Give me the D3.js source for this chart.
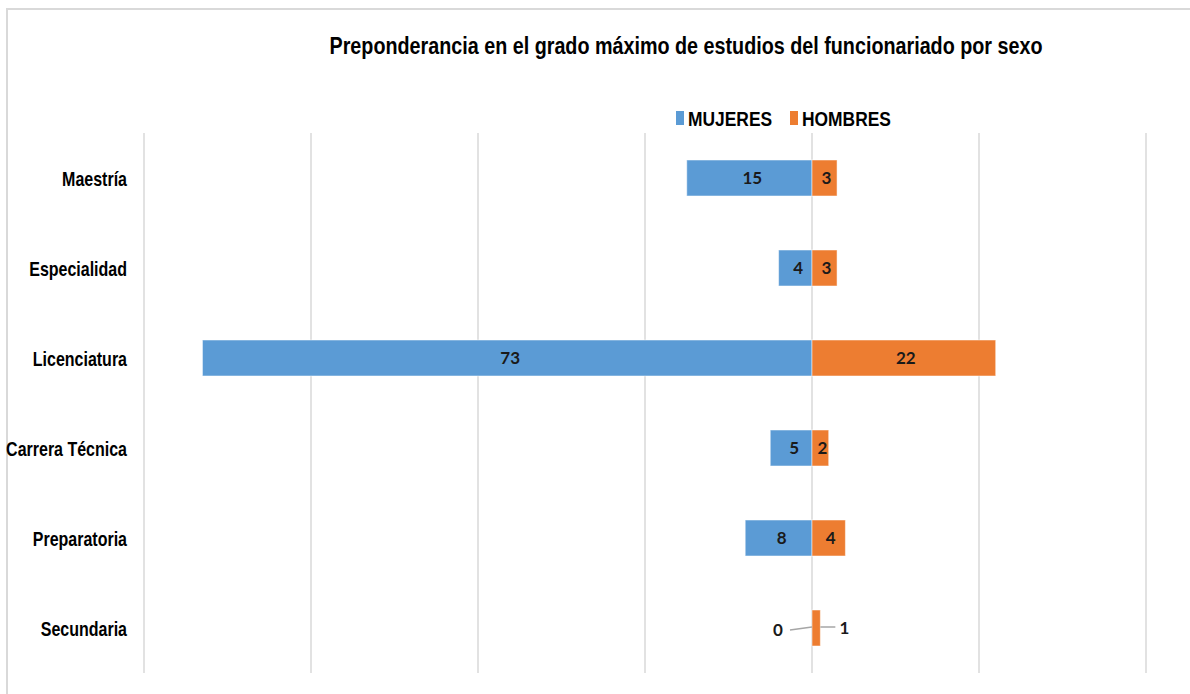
<!DOCTYPE html>
<html>
<head>
<meta charset="utf-8">
<script src="https://cdn.jsdelivr.net/npm/d3@7"></script>
<style>
  body { margin: 0; background: #fff; }
  .narrow { font-family: "Liberation Sans Narrow", "Arial Narrow", "Liberation Sans", sans-serif; font-weight: bold; }
  .val { font-family: Lato, "Open Sans", sans-serif; font-weight: bold; font-size: 17px; fill: #1a1a1a; }
</style>
</head>
<body>
<svg width="1190" height="694"></svg>
<script>
const categories = ["Maestría", "Especialidad", "Licenciatura", "Carrera Técnica", "Preparatoria", "Secundaria"];
const mujeres = [15, 4, 73, 5, 8, 0];
const hombres = [3, 3, 22, 2, 4, 1];
const seriesNames = ["MUJERES", "HOMBRES"];
const colors = ["#5b9bd5", "#ed7d31"];
const gridTicks = [-80, -60, -40, -20, 0, 20, 40];

const svg = d3.select("svg");

// squeeze text horizontally (no narrow font installed)
function condense(sel, factor) {
  sel.each(function () {
    const len = this.getComputedTextLength();
    d3.select(this)
      .attr("textLength", len * factor)
      .attr("lengthAdjust", "spacingAndGlyphs");
  });
}

// chart frame
svg.append("rect")
  .attr("x", 7).attr("y", 9)
  .attr("width", 1200).attr("height", 700)
  .attr("fill", "#fff")
  .attr("stroke", "#d9d9d9")
  .attr("stroke-width", 2);

const x = d3.scaleLinear().domain([-80, 40]).range([144, 1146]);
const y = d3.scaleBand().domain(categories).range([133, 673])
  .paddingInner(0.6).paddingOuter(0.3);

// gridlines
svg.append("g")
  .selectAll("line")
  .data(gridTicks)
  .enter()
  .append("line")
  .attr("x1", (d) => x(d)).attr("x2", (d) => x(d))
  .attr("y1", 133).attr("y2", 673)
  .attr("stroke", "#d9d9d9")
  .attr("stroke-width", 1.5);

// category labels
const yAxis = svg.append("g")
  .attr("transform", `translate(${x(-80)},0)`)
  .call(d3.axisLeft(y).tickSize(0).tickPadding(17));
yAxis.select(".domain").remove();
yAxis.selectAll("text")
  .attr("class", "narrow")
  .style("font-size", "20.5px")
  .attr("fill", "#000")
  .attr("dy", "0.4em");
condense(yAxis.selectAll("text"), 0.78);

const rows = categories.map((c, i) => ({ cat: c, m: mujeres[i], h: hombres[i] }));

// bars
svg.append("g")
  .selectAll("rect")
  .data(rows)
  .enter()
  .append("rect")
  .attr("x", (d) => x(-d.m))
  .attr("y", (d) => y(d.cat))
  .attr("width", (d) => x(0) - x(-d.m))
  .attr("height", y.bandwidth())
  .attr("fill", colors[0])
  .attr("stroke", "#fff")
  .attr("stroke-opacity", 0.5)
  .attr("stroke-width", 1);

svg.append("g")
  .selectAll("rect")
  .data(rows)
  .enter()
  .append("rect")
  .attr("x", x(0))
  .attr("y", (d) => y(d.cat))
  .attr("width", (d) => x(d.h) - x(0))
  .attr("height", y.bandwidth())
  .attr("fill", colors[1])
  .attr("stroke", "#fff")
  .attr("stroke-opacity", 0.5)
  .attr("stroke-width", 1);

// value labels
const mid = (d) => y(d.cat) + y.bandwidth() / 2;
rows.forEach((d) => {
  const cy = mid(d);
  // mujeres
  if (d.m >= 2) {
    svg.append("text").attr("class", "val")
      .attr("x", (x(-d.m) + x(0)) / 2 + 3).attr("y", cy + 6)
      .attr("text-anchor", "middle").text(d.m);
  } else {
    svg.append("path")
      .attr("d", `M${x(0) - 22},${cy + 2} L${x(0)},${cy - 1}`)
      .attr("stroke", "#a6a6a6").attr("stroke-width", 1.5).attr("fill", "none");
    svg.append("text").attr("class", "val")
      .attr("x", x(0) - 34).attr("y", cy + 8)
      .attr("text-anchor", "middle").text(d.m);
  }
  // hombres
  if (d.h >= 2) {
    svg.append("text").attr("class", "val")
      .attr("x", (x(d.h) + x(0)) / 2 + 2).attr("y", cy + 6)
      .attr("text-anchor", "middle").text(d.h);
  } else {
    svg.append("path")
      .attr("d", `M${x(d.h)},${cy - 1} L${x(d.h) + 15},${cy - 1}`)
      .attr("stroke", "#a6a6a6").attr("stroke-width", 1.5).attr("fill", "none");
    svg.append("text").attr("class", "val")
      .attr("x", x(d.h) + 24).attr("y", cy + 6)
      .attr("text-anchor", "middle").text(d.h);
  }
});

// title
const title = svg.append("text")
  .attr("class", "narrow")
  .attr("x", 686).attr("y", 54)
  .attr("text-anchor", "middle")
  .style("font-size", "23.5px")
  .text("Preponderancia en el grado máximo de estudios del funcionariado por sexo");
title.attr("textLength", 713).attr("lengthAdjust", "spacingAndGlyphs");

// legend
const legend = svg.append("g").attr("transform", "translate(676,110)");
const legendX = [0, 114];
seriesNames.forEach((name, i) => {
  const g = legend.append("g").attr("transform", `translate(${legendX[i]},0)`);
  g.append("rect").attr("width", 8).attr("height", 14).attr("y", 1).attr("fill", colors[i]);
  const t = g.append("text").attr("class", "narrow")
    .attr("x", 12).attr("y", 15.5)
    .style("font-size", "20px")
    .text(name);
  condense(t, 0.87);
});
</script>
</body>
</html>
